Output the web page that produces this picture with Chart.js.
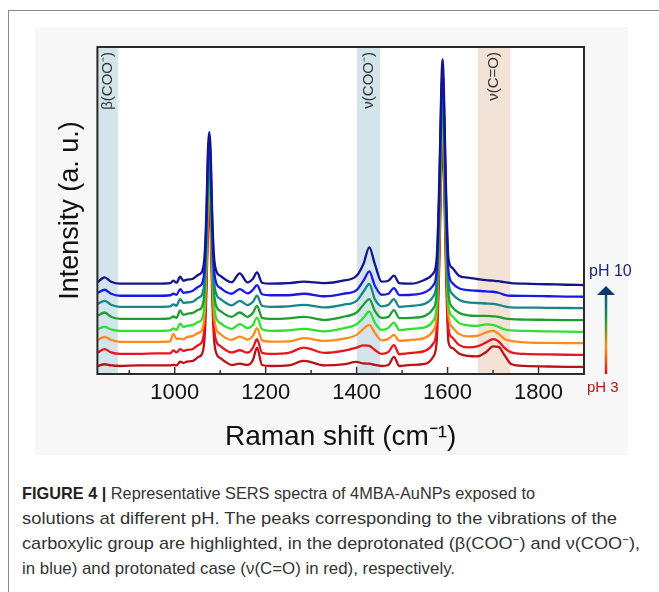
<!DOCTYPE html>
<html>
<head>
<meta charset="utf-8">
<script src="https://cdn.jsdelivr.net/npm/chart.js@4.4.1/dist/chart.umd.min.js"></script>
<style>
  body { margin: 0; background: #fff; width: 659px; height: 592px; overflow: hidden; position: relative; font-family: 'Liberation Sans', Arial, sans-serif; }
  #frame { position: absolute; left: 8px; top: 10px; width: 700px; height: 700px; border-left: 1px solid #8a8a8a; border-top: 1px solid #8a8a8a; }
  #panel { position: absolute; left: 35px; top: 27px; width: 593px; height: 428px; background: #f7f7f7; }
  #chart { position: absolute; left: 35px; top: 27px; }
  #caption { position: absolute; left: 22px; top: 481px; font-size: 17px; line-height: 25px; color: #333; white-space: nowrap; }
  #caption .line { display: block; height: 25px; transform-origin: 0 50%; width: max-content; }
  #caption b { color: #222; }
  #caption .sup { font-size: 11px; vertical-align: 6px; line-height: 0; }
</style>
</head>
<body>
<div id="frame"></div>
<div id="panel"></div>
<canvas id="chart" width="615" height="428"></canvas>
<div id="caption">
  <span class="line" data-w="513"><b>FIGURE 4 |</b> Representative SERS spectra of 4MBA-AuNPs exposed to</span>
  <span class="line" data-w="595">solutions at different pH. The peaks corresponding to the vibrations of the</span>
  <span class="line" data-w="618">carboxylic group are highlighted, in the deprotonated (β(COO<span class="sup">−</span>) and ν(COO<span class="sup">−</span>),</span>
  <span class="line" data-w="433">in blue) and protonated case (ν(C=O) in red), respectively.</span>
</div>
<script>
// Raman shift (cm-1) shared by all spectra
const shifts = [830, 846, 860, 880, 920, 960, 990, 997, 1004, 1012,
  1019, 1027, 1040, 1052, 1060, 1066, 1070, 1073, 1076, 1079,
  1082, 1086, 1092, 1100, 1112, 1125, 1143, 1160, 1172, 1181,
  1192, 1210, 1250, 1284, 1330, 1370, 1400, 1415, 1428, 1440,
  1455, 1470, 1482, 1494, 1520, 1550, 1568, 1576, 1582, 1586,
  1589, 1592, 1596, 1602, 1610, 1625, 1645, 1665, 1685, 1700,
  1712, 1725, 1740, 1770, 1820, 1860, 1900];

// Intensities (a. u., stacked) for each pH
const ph10 = [91.3, 96.3, 92, 90, 90, 90, 90.5, 93, 91, 97,
  93, 94, 95, 99, 102, 120, 167, 223, 241, 223,
  167, 120, 102, 98, 94, 91.5, 100.3, 91.3, 95, 101.3,
  91, 90, 90.5, 92, 90.5, 93, 98, 109.7, 126.3, 109.7,
  92, 93, 98, 90.5, 90, 94, 100, 115, 196, 282,
  314, 282, 196, 115, 106, 98, 96, 94.7, 93.5, 93,
  92.5, 91.5, 90.7, 90, 89.5, 89, 88.7];
const ph9 = [80.7, 84, 80, 78, 78, 78, 78.5, 80, 79, 84.7,
  81, 81.5, 83, 87, 90, 108, 156, 213, 231, 213,
  156, 108, 90, 86, 82, 80, 84.7, 80.3, 84, 88.7,
  79.5, 78.5, 78.5, 80, 77.5, 80, 83.7, 93, 102.3, 88,
  79, 80, 85.7, 78.7, 79, 81.5, 88, 103, 184, 270,
  302, 270, 184, 103, 91, 85.5, 83.7, 83, 82.3, 82,
  81, 79, 78, 77.8, 77.5, 77.2, 77];
const ph8 = [69.7, 73, 69, 67, 67, 67, 67.5, 69.5, 68, 74.7,
  71, 71.3, 72, 76, 79, 97, 145, 202, 220, 202,
  145, 97, 79, 75, 71, 68.5, 73, 68.7, 72, 78,
  68, 67, 67.5, 69, 66.5, 69, 73, 82, 89.7, 74.7,
  67.5, 69, 74.7, 67, 68, 70, 77, 92, 173, 259,
  291, 259, 173, 92, 80, 74, 71.3, 70.8, 70.3, 70,
  69, 67.5, 66.5, 66.2, 66, 65.8, 65.7];
const ph7 = [58, 61.3, 57, 55, 55, 55, 55.5, 57.3, 56, 63.3,
  59, 60, 61, 64, 67, 85, 133, 190, 208, 190,
  133, 85, 67, 63, 59, 57, 61.3, 57, 61, 68,
  56, 55, 55.5, 57, 54, 57, 61.3, 69, 74.7, 63,
  56, 57, 63.7, 55.7, 56, 58, 65, 80, 161, 247,
  279, 247, 161, 80, 67, 61, 58.5, 58, 58, 57.5,
  57, 55.5, 54.7, 54.3, 54, 53.8, 53.7];
const ph6 = [44.7, 47, 44.5, 43, 43, 43, 43.5, 45.5, 44, 50.3,
  47, 48, 49, 52, 55, 73, 121, 178, 196, 178,
  121, 73, 55, 51, 47, 45, 49.7, 45.7, 49, 56.3,
  44.5, 43, 43.5, 45, 42.5, 45.5, 49.7, 56, 62.3, 51.3,
  44, 46, 51.3, 43.7, 45, 46.5, 53, 68, 149, 235,
  267, 235, 149, 68, 58, 51, 48.5, 48, 49.5, 49,
  47, 44.5, 43.5, 43, 42.5, 42.2, 42];
const ph5 = [33.7, 37, 34, 32, 32, 32, 32.5, 40, 35, 35.3,
  34.5, 36.7, 38, 41, 44, 62, 110, 167, 185, 167,
  110, 62, 44, 40, 36, 34, 37.3, 34.3, 38, 45.7,
  33.5, 32.3, 32.5, 35.7, 33, 35, 39, 45, 49, 41,
  33.5, 35, 39, 33, 34, 36, 43, 58, 139, 225,
  257, 225, 139, 58, 47, 40, 37.5, 38, 41.5, 43,
  40, 35, 33, 31.5, 31, 30.8, 30.7];
const ph4 = [21.3, 24.7, 21.5, 20, 20, 20.5, 20.5, 23.5, 21.5, 24.7,
  23, 24, 25, 29, 32, 50, 98, 155, 173, 155,
  98, 50, 32, 28, 24, 21.5, 23.7, 21.3, 26, 34.7,
  21, 20, 21, 26.3, 21, 23, 26.3, 28.5, 28, 24,
  20, 22, 28.7, 19.7, 21, 23, 30, 45, 126, 212,
  244, 212, 126, 45, 36.5, 29, 26.5, 27.5, 31.5, 34.7,
  32.5, 26, 21.5, 20, 19.5, 19.2, 19];
const ph3 = [8, 9.7, 8.5, 8, 8.5, 8.5, 8.5, 9, 8.5, 12.3,
  11, 12.3, 13, 17, 20, 38, 86, 143, 161, 143,
  86, 38, 20, 16, 12, 9, 10.3, 9, 14, 26.3,
  9, 8, 8.5, 13, 8.5, 9.5, 12, 10.5, 10.3, 9,
  8, 9, 17, 8, 9, 10, 17, 32, 113, 199,
  231, 199, 113, 32, 26, 20.5, 18, 17.5, 22, 27.5,
  27, 19, 10, 8, 7.5, 7.2, 7];

// top spectrum first so it is drawn on top
const spectra = [ph10, ph9, ph8, ph7, ph6, ph5, ph4, ph3];
const spectraColors = ["#14148c", "#1818e8", "#16868a", "#1f9e30", "#30e030", "#ff8c1a", "#e8161c", "#bb1219"];

const xLabels = [1000, 1200, 1400, 1600, 1800];
const xMinor = [900, 1100, 1300, 1500, 1700];

// highlighted bands
const bandNames = ["β(COO⁻)", "ν(COO⁻)", "ν(C=O)"];
const bandFrom = [829, 1401, 1667];
const bandTo = [875, 1452, 1738];
const bandColors = ["#d3e5ea", "#d3e5ea", "#f3e2d6"];

const phLabels = ["pH 10", "pH 3"];

Chart.defaults.font.family = "'Liberation Sans', Arial, sans-serif";
Chart.defaults.color = "#111";

const sersDecor = {
  id: "sersDecor",
  beforeDatasetsDraw(chart) {
    const { ctx, chartArea: a, scales: { x } } = chart;
    ctx.save();
    ctx.fillStyle = "#fff";
    ctx.fillRect(a.left, a.top, a.width, a.height);
    bandFrom.forEach((from, i) => {
      const x0 = Math.max(x.getPixelForValue(from), a.left);
      const x1 = x.getPixelForValue(bandTo[i]);
      ctx.fillStyle = bandColors[i];
      ctx.fillRect(x0, a.top, x1 - x0, a.height);
    });
    ctx.restore();
  },
  afterDatasetsDraw(chart) {
    const { ctx, chartArea: a, scales: { x } } = chart;
    ctx.save();
    // inner ticks
    ctx.strokeStyle = "#333";
    ctx.lineWidth = 1.5;
    xLabels.forEach((v) => {
      const px = x.getPixelForValue(v);
      ctx.beginPath(); ctx.moveTo(px, a.bottom); ctx.lineTo(px, a.bottom - 7); ctx.stroke();
    });
    xMinor.forEach((v) => {
      const px = x.getPixelForValue(v);
      ctx.beginPath(); ctx.moveTo(px, a.bottom); ctx.lineTo(px, a.bottom - 4); ctx.stroke();
    });
    // frame
    ctx.lineWidth = 2;
    ctx.strokeStyle = "#2a2a2a";
    ctx.strokeRect(a.left, a.top, a.width, a.height);
    // band labels
    ctx.fillStyle = "#333";
    ctx.font = "15px 'Liberation Sans', Arial, sans-serif";
    ctx.textAlign = "right";
    ctx.textBaseline = "middle";
    bandNames.forEach((name, i) => {
      const cx = (Math.max(x.getPixelForValue(bandFrom[i]), a.left) + x.getPixelForValue(bandTo[i])) / 2;
      ctx.save();
      ctx.translate(cx, a.top + 5);
      ctx.rotate(-Math.PI / 2);
      ctx.fillText(name, 0, 0);
      ctx.restore();
    });
    ctx.restore();
  },
  afterDraw(chart) {
    const { ctx, chartArea: a } = chart;
    ctx.save();
    const ax = a.right + 22;
    const yTop = a.bottom - 88;
    const grad = ctx.createLinearGradient(0, a.bottom, 0, yTop);
    grad.addColorStop(0, "#d8140f");
    grad.addColorStop(0.3, "#ff8c1a");
    grad.addColorStop(0.6, "#2a9a3a");
    grad.addColorStop(0.8, "#0f6e7a");
    grad.addColorStop(1, "#0b3a66");
    ctx.strokeStyle = grad;
    ctx.lineWidth = 2.5;
    ctx.beginPath(); ctx.moveTo(ax, a.bottom); ctx.lineTo(ax, yTop + 6); ctx.stroke();
    ctx.fillStyle = "#0b3a66";
    ctx.beginPath();
    ctx.moveTo(ax, yTop);
    ctx.lineTo(ax - 9, yTop + 9);
    ctx.lineTo(ax + 9, yTop + 9);
    ctx.closePath();
    ctx.fill();
    ctx.textAlign = "left";
    ctx.textBaseline = "middle";
    ctx.font = "16px 'Liberation Sans', Arial, sans-serif";
    ctx.fillStyle = "#1c2a6e";
    ctx.fillText(phLabels[0], a.right + 5, yTop - 14);
    ctx.font = "15px 'Liberation Sans', Arial, sans-serif";
    ctx.fillStyle = "#b01818";
    ctx.fillText(phLabels[1], a.right + 3, a.bottom + 14);
    ctx.restore();
  }
};

new Chart(document.getElementById("chart"), {
  type: "line",
  data: {
    datasets: spectra.map((vals, i) => ({
      data: shifts.map((s, j) => ({ x: s, y: vals[j] })),
      borderColor: spectraColors[i],
      borderWidth: 2.3,
      pointRadius: 0,
      fill: false,
      cubicInterpolationMode: "monotone",
    })),
  },
  options: {
    responsive: false,
    animation: false,
    layout: { padding: { left: 10, right: 66, top: 20, bottom: 0 } },
    plugins: { legend: { display: false }, tooltip: { enabled: false } },
    scales: {
      x: {
        type: "linear",
        min: 830,
        max: 1900,
        afterBuildTicks: (scale) => { scale.ticks = xLabels.map((v) => ({ value: v })); },
        grid: { display: false, drawTicks: false },
        border: { display: false },
        ticks: { font: { size: 22 }, color: "#111", padding: 6, callback: (v) => String(v) },
        title: { display: true, text: "Raman shift (cm⁻¹)", font: { size: 28 }, color: "#111", padding: { top: 8, bottom: 1 } },
      },
      y: {
        min: 0,
        max: 326,
        grid: { display: false, drawTicks: false },
        border: { display: false },
        ticks: { display: false },
        title: { display: true, text: "Intensity (a. u.)", font: { size: 27 }, color: "#111", padding: { top: 9, bottom: 11 } },
      },
    },
  },
  plugins: [sersDecor],
});

// fit caption lines to the widths of the printed figure
document.querySelectorAll("#caption .line").forEach((line) => {
  const natural = line.getBoundingClientRect().width;
  line.style.transform = `scaleX(${line.dataset.w / natural})`;
});
</script>
</body>
</html>
